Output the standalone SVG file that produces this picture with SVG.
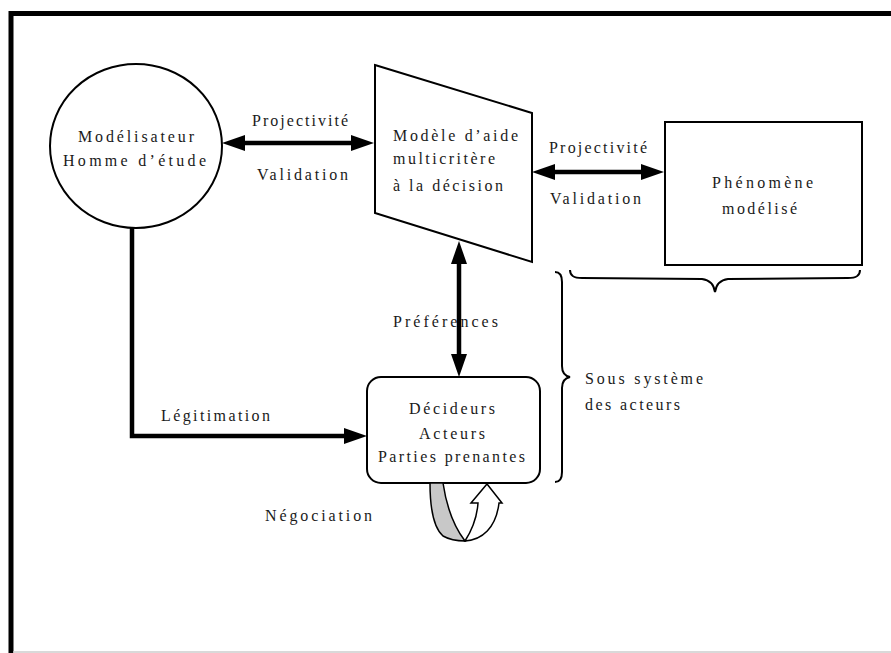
<svg xmlns="http://www.w3.org/2000/svg" width="891" height="653" viewBox="0 0 891 653">
  <defs>
    <style>
      .lbl { font-family: "Liberation Serif", "Times New Roman", serif; font-size: 16px; fill: #1a1a1a; }
      .shape { fill: #ffffff; stroke: #000000; stroke-width: 2; }
      .link { fill: none; stroke: #000000; stroke-width: 4.5; }
      .brace { fill: none; stroke: #000000; stroke-width: 2; }
    </style>
    <marker id="head" viewBox="0 0 23 16" markerWidth="23" markerHeight="16" refX="13" refY="8" orient="auto-start-reverse" markerUnits="userSpaceOnUse">
      <path d="M0,0 L23,8 L0,16 Z" fill="#000000"/>
    </marker>
  </defs>

  <rect width="891" height="653" fill="#ffffff"/>

  <!-- outer frame -->
  <g id="frame">
    <path d="M11,655 V13.5 H895" fill="none" stroke="#000000" stroke-width="5"/>
    <line x1="13" y1="652" x2="891" y2="652" stroke="#cccccc" stroke-width="1.5"/>
  </g>

  <!-- connectors -->
  <g id="connectors">
    <line class="link" x1="232" y1="143" x2="364" y2="143" marker-start="url(#head)" marker-end="url(#head)"/>
    <line class="link" x1="542" y1="172" x2="654" y2="172" marker-start="url(#head)" marker-end="url(#head)"/>
    <line class="link" x1="459" y1="251" x2="459" y2="367" marker-start="url(#head)" marker-end="url(#head)"/>
    <path class="link" d="M132,228 V436 H357" marker-end="url(#head)"/>
  </g>

  <g id="modelisateur">
    <ellipse class="shape" cx="136" cy="146" rx="86" ry="82"/>
    <text class="lbl" x="78" y="142" textLength="116" lengthAdjust="spacing">Modélisateur</text>
    <text class="lbl" x="63" y="166" textLength="143" lengthAdjust="spacing">Homme d’étude</text>
  </g>

  <g id="modele">
    <polygon class="shape" points="375,65 532,113 532,262 375,213"/>
    <text class="lbl" x="393" y="141" textLength="125" lengthAdjust="spacing">Modèle d’aide</text>
    <text class="lbl" x="393" y="164" textLength="102" lengthAdjust="spacing">multicritère</text>
    <text class="lbl" x="393" y="191" textLength="110" lengthAdjust="spacing">à la décision</text>
  </g>

  <g id="phenomene">
    <rect class="shape" x="665" y="122" width="197" height="143"/>
    <text class="lbl" x="712" y="188" textLength="101" lengthAdjust="spacing">Phénomène</text>
    <text class="lbl" x="722" y="214" textLength="75" lengthAdjust="spacing">modélisé</text>
  </g>

  <g id="decideurs">
    <rect class="shape" x="367" y="377" width="173" height="106" rx="14" ry="14"/>
    <text class="lbl" x="409" y="414" textLength="86" lengthAdjust="spacing">Décideurs</text>
    <text class="lbl" x="419" y="439" textLength="66" lengthAdjust="spacing">Acteurs</text>
    <text class="lbl" x="378" y="462" textLength="147" lengthAdjust="spacing">Parties prenantes</text>
  </g>

  <!-- negotiation loop under the actors box -->
  <g id="negociation">
    <path d="M430,483 C430,508 434,528 443,536 C450,540 457,541 465,541 C455,528 447,510 443,483 Z" fill="#c8c8c8" stroke="#000000" stroke-width="1.5"/>
    <path d="M465,541 C482,540 496,528 499,503 L502,503 L487,484 L471,503 L478,503 C477,518 472,530 465,541 Z" fill="#ffffff" stroke="#000000" stroke-width="1.5"/>
    <text class="lbl" x="265" y="521" textLength="107" lengthAdjust="spacing">Négociation</text>
  </g>

  <!-- connector labels -->
  <g id="labels">
    <text class="lbl" x="252" y="126" textLength="96" lengthAdjust="spacing">Projectivité</text>
    <text class="lbl" x="257" y="180" textLength="91" lengthAdjust="spacing">Validation</text>
    <text class="lbl" x="549" y="153" textLength="98" lengthAdjust="spacing">Projectivité</text>
    <text class="lbl" x="550" y="204" textLength="91" lengthAdjust="spacing">Validation</text>
    <text class="lbl" x="393" y="327" textLength="105" lengthAdjust="spacing">Préférences</text>
    <text class="lbl" x="161" y="421" textLength="109" lengthAdjust="spacing">Légitimation</text>
  </g>

  <!-- braces grouping the subsystems -->
  <g id="sous-systeme">
    <path class="brace" d="M570,270 C570,276 574,278 582,278 L702,279 C710,280 714,285 715,292 C716,285 720,280 728,279 L848,278 C856,278 860,276 860,270"/>
    <path class="brace" d="M555,272 C560,272 562,276 562,282 L562,366 C562,373 565,376 570,377 C565,378 562,381 562,388 L562,472 C562,478 560,482 555,482"/>
    <text class="lbl" x="585" y="384" textLength="118" lengthAdjust="spacing">Sous système</text>
    <text class="lbl" x="585" y="410" textLength="95" lengthAdjust="spacing">des acteurs</text>
  </g>
</svg>
